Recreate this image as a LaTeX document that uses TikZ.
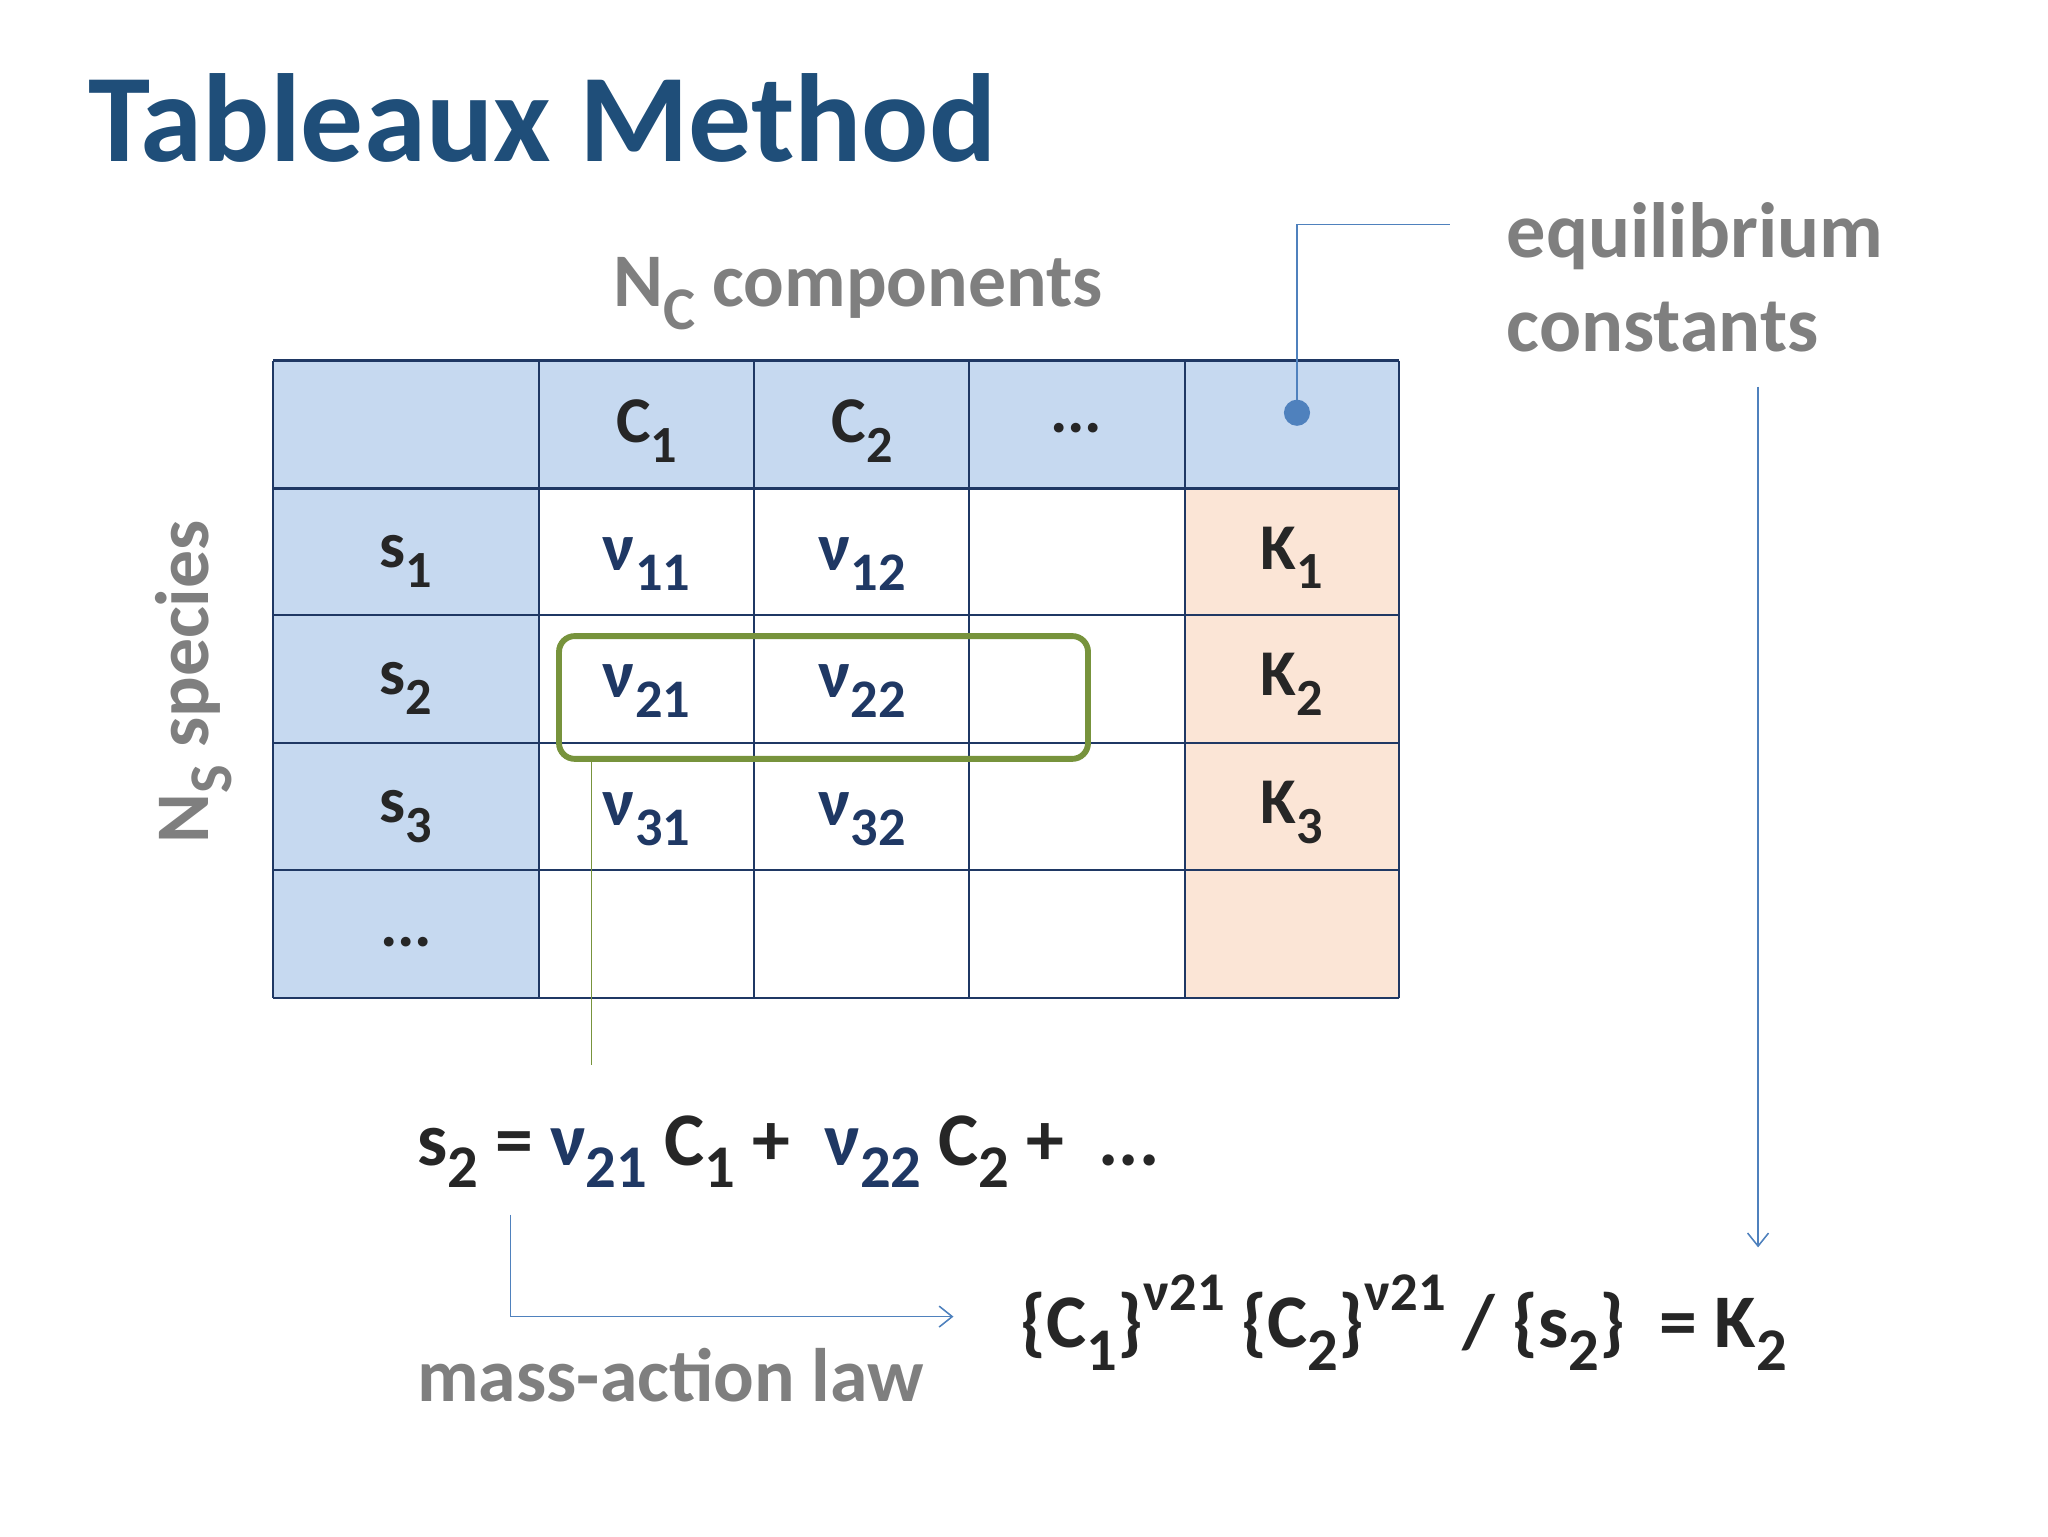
\documentclass[tikz,border=0pt]{standalone}
\usepackage{fontspec}
\usepackage{graphicx}
\setmainfont{Carlito}
\usetikzlibrary{arrows.meta}
\definecolor{hb}{HTML}{C6D9F0}
\definecolor{pk}{HTML}{FBE5D6}
\definecolor{bd}{HTML}{1F3864}
\definecolor{ttl}{HTML}{1F4E79}
\definecolor{gr}{HTML}{7F7F7F}
\definecolor{dk}{HTML}{262626}
\definecolor{gn}{HTML}{77933C}
\definecolor{ln}{HTML}{4F81BD}
\newcommand\lo[1]{\raisebox{-.3em}{\scalebox{.8}{#1}}}
\newcommand\hi[1]{\raisebox{.5em}{\scalebox{.72}{#1}}}
\begin{document}
\begin{tikzpicture}[x=1pt,y=-1pt,
 cell/.style={draw=bd,line width=1.6pt},
 ct/.style={font=\fontsize{50}{50}\selectfont\bfseries,text=dk},
 nu/.style={font=\fontsize{52}{52}\selectfont\bfseries,text=bd},
 glab/.style={font=\fontsize{58}{62}\selectfont\bfseries,text=gr},
 conn/.style={ln,line width=1.2pt}]
\useasboundingbox (0,0) rectangle (1568,1176);
\node[anchor=base west,font=\fontsize{96}{96}\selectfont\bfseries,text=ttl] (title) at (64,124) {Tableaux Method};
% fills
\fill[hb] (209,276) rectangle (1071,374);
\fill[hb] (209,374) rectangle (413,764);
\fill[pk] (907,374) rectangle (1071,764);
\foreach \x in {209,413,577,742,907,1071} \draw[cell] (\x,276) -- (\x,764);
\foreach \y in {276,374,471,569,666,764} \draw[cell] (209,\y) -- (1071,\y);
% header
\node[ct] (c1) at (495,330) {C\lo{1}};
\node[ct] (c2) at (660,330) {C\lo{2}};
\node[ct] (cd) at (824,328) {...};
\node[ct] (s1) at (311,430) {s\lo{1}};
\node[ct] (s2) at (311,527) {s\lo{2}};
\node[ct] (s3) at (311,625) {s\lo{3}};
\node[ct] (sd) at (311,721) {...};
\node[ct] (k1) at (989,427) {K\lo{1}};
\node[ct] (k2) at (989,524) {K\lo{2}};
\node[ct] (k3) at (989,622) {K\lo{3}};
\node[nu] (n11) at (495,432) {ν\lo{11}};
\node[nu] (n12) at (660,432) {ν\lo{12}};
\node[nu] (n21) at (495,529) {ν\lo{21}};
\node[nu] (n22) at (660,529) {ν\lo{22}};
\node[nu] (n31) at (495,627) {ν\lo{31}};
\node[nu] (n32) at (660,627) {ν\lo{32}};
% green box
\draw[gn,line width=4.5pt,rounded corners=12pt] (428,487) rectangle (833,581);
\coordinate (g1) at (453,581); \coordinate (g2) at (453,815);
\draw[gn,line width=1.2pt] (g1) -- (g2);
% labels
\node[glab] (nc) at (657,225) {N\lo{C} components};
\node[glab,rotate=90] (ns) at (148,522) {N\lo{S} species};
\node[glab,anchor=west,align=left,font=\fontsize{60}{72}\selectfont\bfseries] (eq) at (1150,212) {equilibrium\\constants};
\fill[ln] (993,316) circle (10pt);
\coordinate (dot) at (993,316); \coordinate (e1) at (993,172); \coordinate (e2) at (1110,172);
\draw[conn] (dot) -- (e1) -- (e2);
\coordinate (a1) at (1346,296); \coordinate (a2) at (1346,955);
\draw[conn,-{Straight Barb[length=10pt,width=16pt]}] (a1) -- (a2);
% equation
\node[anchor=base west,font=\fontsize{58}{58}\selectfont\bfseries,text=dk] (eqn) at (316,892)
 {s\lo{2} = \textcolor{bd}{ν\lo{21}} C\lo{1} +\ \ \textcolor{bd}{ν\lo{22}} C\lo{2} +\ \ ...};
\coordinate (m1) at (391,930); \coordinate (m2) at (391,1008); \coordinate (m3) at (730,1008);
\draw[conn,-{Straight Barb[length=10pt,width=16pt]}] (m1) -- (m2) -- (m3);
\node[glab,anchor=base west] (mal) at (316,1073) {mass-action law};
\node[anchor=base west,font=\fontsize{58}{58}\selectfont\bfseries,text=dk] (law) at (778,1032)
 {\{C\lo{1}\}\hi{ν21} \{C\lo{2}\}\hi{ν21} / \{s\lo{2}\}\ \ = K\lo{2}};
\end{tikzpicture}
\end{document}
